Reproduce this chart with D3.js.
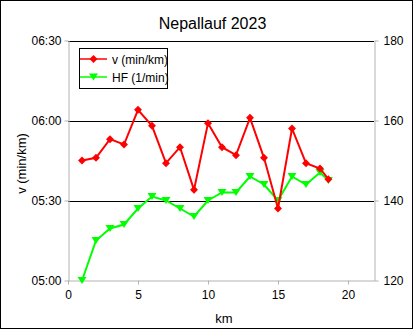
<!DOCTYPE html>
<html>
<head>
<meta charset="utf-8">
<script src="https://cdn.jsdelivr.net/npm/d3@7"></script>
<style>
  html, body { margin: 0; padding: 0; background: #fff; }
  svg { display: block; font-family: "Liberation Sans", Arial, sans-serif; }
</style>
</head>
<body>
<svg id="chart" width="415" height="330"></svg>
<script>
// Split times per kilometre and heart rate, Nepallauf 2023
const km = [1, 2, 3, 4, 5, 6, 7, 8, 9, 10, 11, 12, 13, 14, 15, 16, 17, 18, 18.6];
const pace = ["05:45", "05:46", "05:53", "05:51", "06:04", "05:58", "05:44", "05:50", "05:34", "05:59",
              "05:50", "05:47", "06:01", "05:46", "05:27", "05:57", "05:44", "05:42", "05:38"];
const hf = [120, 130, 133, 134, 138, 141, 140, 138, 136, 140, 142, 142, 146, 144, 140, 146, 144, 147, 145];

const paceTicks = ["05:00", "05:30", "06:00", "06:30"];
const hfTicks = [120, 140, 160, 180];
const kmTicks = [0, 5, 10, 15, 20];

const title = "Nepallauf 2023";
const seriesNames = ["v (min/km)", "HF (1/min)"];

const toSec = s => { const [m, ss] = s.split(":").map(Number); return m * 60 + ss; };
const fmt = v => { const m = Math.floor(v / 60), s = Math.round(v % 60); return String(m).padStart(2, "0") + ":" + String(s).padStart(2, "0"); };

const svg = d3.select("#chart");
const plot = { left: 68, right: 374, top: 40.5, bottom: 280.5 };

// outer frame
svg.append("rect").attr("x", 0.5).attr("y", 0.5).attr("width", 412).attr("height", 328)
  .attr("fill", "#fff").attr("stroke", "#000").attr("stroke-width", 1);

const x = d3.scaleLinear().domain([0, 21.857]).range([plot.left, plot.right]);
const yL = d3.scaleLinear().domain([toSec(paceTicks[0]), toSec(paceTicks[paceTicks.length - 1])]).range([plot.bottom, plot.top]);
const yR = d3.scaleLinear().domain([hfTicks[0], hfTicks[hfTicks.length - 1]]).range([plot.bottom, plot.top]);

// horizontal grid lines
svg.append("g").selectAll("line").data(paceTicks.slice(1).map(toSec)).join("line")
  .attr("x1", plot.left).attr("x2", plot.right)
  .attr("y1", d => Math.round(yL(d)) + 0.5).attr("y2", d => Math.round(yL(d)) + 0.5)
  .attr("stroke", "#000").attr("stroke-width", 1);

const axisColor = "#b3b3b3";
function styleAxis(g) {
  g.select(".domain").attr("stroke", axisColor);
  g.selectAll(".tick line").attr("stroke", axisColor);
  g.selectAll(".tick text").attr("fill", "#000").attr("font-size", 12)
    .attr("font-family", "Liberation Sans, Arial, sans-serif");
}

svg.append("g").attr("transform", `translate(${plot.left + 0.5},0)`)
  .call(d3.axisLeft(yL).tickValues(paceTicks.map(toSec)).tickFormat(fmt).tickSize(4).tickSizeOuter(0).tickPadding(3))
  .call(styleAxis);

svg.append("g").attr("transform", `translate(${plot.right + 0.5},0)`)
  .call(d3.axisRight(yR).tickValues(hfTicks).tickFormat(d3.format("d")).tickSize(4).tickSizeOuter(0).tickPadding(5))
  .call(styleAxis);

svg.append("g").attr("transform", `translate(0,${plot.bottom})`)
  .call(d3.axisBottom(x).tickValues(kmTicks).tickFormat(d3.format("d")).tickSize(4).tickSizeOuter(0).tickPadding(6))
  .call(styleAxis);

// titles
svg.append("text").attr("x", 212.5).attr("y", 29).attr("text-anchor", "middle")
  .attr("font-size", 16).attr("fill", "#000").text(title);
svg.append("text").attr("x", 224).attr("y", 323).attr("text-anchor", "middle")
  .attr("font-size", 13).attr("fill", "#000").text("km");
svg.append("text").attr("transform", `translate(26,${(plot.top + plot.bottom) / 2 + 3}) rotate(-90)`)
  .attr("text-anchor", "middle").attr("font-size", 13).attr("fill", "#000").text(seriesNames[0]);

// series
const red = "#ff0000", green = "#00ff00";
const paceData = km.map((k, i) => [k, toSec(pace[i])]);
const hfData = km.map((k, i) => [k, hf[i]]);

const diamond = d3.symbol().type(d3.symbolDiamond2).size(40);
const tri = s => `M${-s},${-s * 0.8}L${s},${-s * 0.8}L0,${s * 0.8}Z`;

svg.append("path").datum(hfData)
  .attr("d", d3.line().x(d => x(d[0])).y(d => yR(d[1])))
  .attr("fill", "none").attr("stroke", green).attr("stroke-width", 2);
svg.append("g").selectAll("path").data(hfData).join("path")
  .attr("transform", d => `translate(${x(d[0])},${yR(d[1])})`)
  .attr("d", tri(4.5)).attr("fill", green);

svg.append("path").datum(paceData)
  .attr("d", d3.line().x(d => x(d[0])).y(d => yL(d[1])))
  .attr("fill", "none").attr("stroke", red).attr("stroke-width", 2);
svg.append("g").selectAll("path").data(paceData).join("path")
  .attr("transform", d => `translate(${x(d[0])},${yL(d[1])})`)
  .attr("d", diamond).attr("fill", red);

// legend
const lg = svg.append("g");
lg.append("rect").attr("x", 79.5).attr("y", 48.5).attr("width", 88).attr("height", 40)
  .attr("fill", "#fff").attr("stroke", "#000");
[[red, "diamond"], [green, "tri"]].forEach(([c, m], i) => {
  const yy = 59 + i * 18;
  lg.append("line").attr("x1", 80).attr("x2", 107).attr("y1", yy).attr("y2", yy)
    .attr("stroke", c).attr("stroke-width", 1.5);
  lg.append("path").attr("transform", `translate(93.5,${yy})`)
    .attr("d", m === "diamond" ? diamond() : tri(4.5)).attr("fill", c);
  lg.append("text").attr("x", 112).attr("y", yy + 4.5).attr("font-size", 12).attr("fill", "#000")
    .text(seriesNames[i]);
});
</script>
</body>
</html>
